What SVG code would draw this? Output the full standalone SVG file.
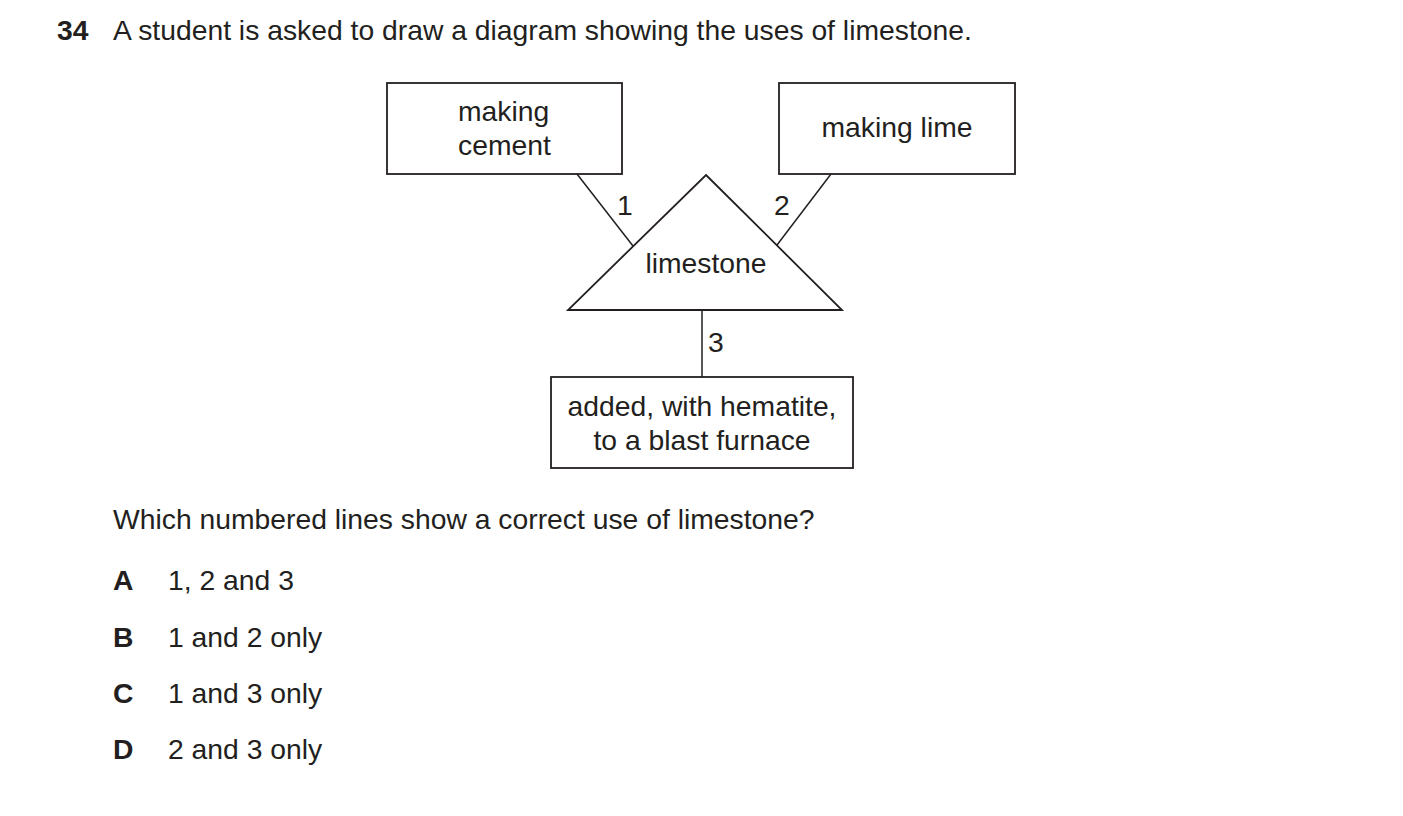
<svg xmlns="http://www.w3.org/2000/svg" width="1403" height="816" viewBox="0 0 1403 816">
<style>
text{font-family:"Liberation Sans",Arial,sans-serif;font-size:28.3px;fill:#231f20}
.b{font-weight:bold}
.s{fill:#fff;stroke:#231f20;stroke-width:1.8}
line{stroke:#231f20;stroke-width:1.5}
</style>
<rect width="1403" height="816" fill="#fff"/>
<text x="57" y="40" class="b">34</text>
<text x="113" y="40">A student is asked to draw a diagram showing the uses of limestone.</text>
<g id="connectors">
<line x1="577" y1="174" x2="633" y2="246"/>
<line x1="831" y1="174" x2="777" y2="245"/>
<line x1="702" y1="310" x2="702" y2="377"/>
<text x="617" y="215" font-size="26">1</text>
<text x="774" y="215" font-size="26">2</text>
<text x="708" y="352" font-size="26">3</text>
</g>
<g id="cement"><rect class="s" x="387" y="83" width="235" height="91"/>
<text x="458" y="121">making</text><text x="458" y="155">cement</text></g>
<g id="lime"><rect class="s" x="779" y="83" width="236" height="91"/>
<text x="897" y="137" text-anchor="middle">making lime</text></g>
<g id="limestone"><polygon class="s" points="706,175 842,310 568,310"/>
<text x="706" y="273" text-anchor="middle">limestone</text></g>
<g id="furnace"><rect class="s" x="551" y="377" width="302" height="91"/>
<text x="702" y="416" text-anchor="middle">added, with hematite,</text>
<text x="702" y="450" text-anchor="middle">to a blast furnace</text></g>
<text x="113" y="529">Which numbered lines show a correct use of limestone?</text>
<text x="113" y="590" class="b">A</text><text x="168" y="590">1, 2 and 3</text>
<text x="113" y="647" class="b">B</text><text x="168" y="647">1 and 2 only</text>
<text x="113" y="703" class="b">C</text><text x="168" y="703">1 and 3 only</text>
<text x="113" y="759" class="b">D</text><text x="168" y="759">2 and 3 only</text>
</svg>
